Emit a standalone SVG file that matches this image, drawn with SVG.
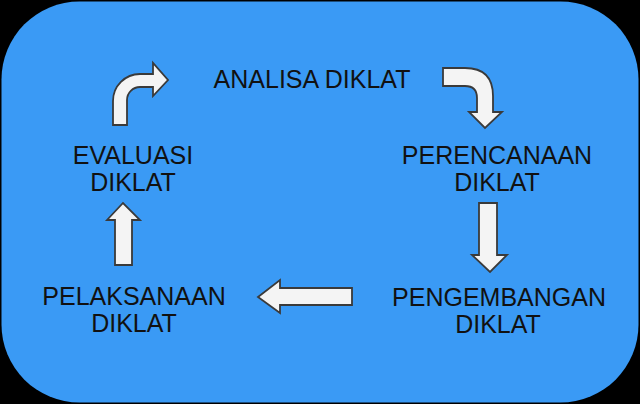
<svg xmlns="http://www.w3.org/2000/svg" width="640" height="404" viewBox="0 0 640 404">
<style>
.lbl{font-family:"Liberation Sans",Arial,sans-serif;font-size:25px;fill:#111;text-anchor:middle}
.arr{fill:#f4f4f4;stroke:#3a3a3a;stroke-width:1.8;stroke-linejoin:miter}
</style>
<rect x="0" y="0" width="640" height="404" fill="#000"/>
<rect x="1.5" y="1.5" width="637" height="401" rx="78" ry="78" fill="#3a9af5"/>
<g id="analisa"><text class="lbl" x="312" y="88">ANALISA DIKLAT</text></g>
<g id="perencanaan"><text class="lbl" x="497" y="164">PERENCANAAN</text><text class="lbl" x="497" y="191">DIKLAT</text></g>
<g id="pengembangan"><text class="lbl" x="499" y="306">PENGEMBANGAN</text><text class="lbl" x="498" y="333">DIKLAT</text></g>
<g id="pelaksanaan"><text class="lbl" x="134" y="305">PELAKSANAAN</text><text class="lbl" x="134" y="332">DIKLAT</text></g>
<g id="evaluasi"><text class="lbl" x="133" y="164">EVALUASI</text><text class="lbl" x="133" y="191">DIKLAT</text></g>
<g id="connectors">
<path class="arr" d="M113,125 L113,101 A27,27 0 0 1 140,74 L153,74 L153,63 L168,80 L153,96 L153,87 L140,87 A13,13 0 0 0 127,100 L127,125 Z"/>
<path class="arr" d="M443,68 L465,68 Q493,68 493,96 L493,112 L502,112 L485,128 L469,112 L477,112 L477,98 Q477,86 465,86 L443,86 Z"/>
<path class="arr" d="M479,203 L497,203 L497,255 L507,255 L490,272 L472,255 L479,255 Z"/>
<path class="arr" d="M352,288 L280,288 L280,280 L258,297 L280,313 L280,305 L352,305 Z"/>
<path class="arr" d="M115,265 L115,220 L107,220 L123,203 L140,220 L132,220 L132,265 Z"/>
</g>
</svg>
